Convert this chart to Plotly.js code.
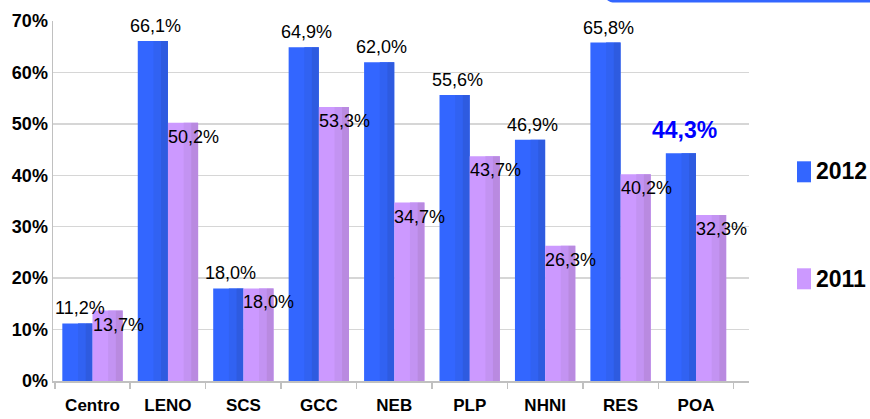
<!DOCTYPE html>
<html>
<head>
<meta charset="utf-8">
<script src="https://cdn.plot.ly/plotly-3.0.1.min.js"></script>
<style>html,body{margin:0;padding:0;background:#fff;}#chart{width:870px;height:419px;}</style>
</head>
<body>
<div id="chart"></div>
<script>
const categories = ["Centro", "LENO", "SCS", "GCC", "NEB", "PLP", "NHNI", "RES", "POA"];
const values2012 = [11.2, 66.1, 18.0, 64.9, 62.0, 55.6, 46.9, 65.8, 44.3];
const values2011 = [13.7, 50.2, 18.0, 53.3, 34.7, 43.7, 26.3, 40.2, 32.3];
const seriesNames = ["2012", "2011"];
const highlightCategory = "POA";

const FONT = "'Liberation Sans', Arial, sans-serif";
const BLUE = ["#3366ff", "#3162f2", "#2e5be0"];
const PURPLE = ["#cc99ff", "#c393f2", "#b98ae0"];

const fmt = v => v.toFixed(1).replace('.', ',') + '%';

const L = 53, R = 749, T = 20.7, B = 380.7, W = 870, H = 419;
const px = x => (x - L) / (R - L);
const py = y => (B - y) / (B - T);

const BW = 0.4;
function seriesTraces(name, values, colors, start) {
  // full bar plus two darker bands on the right (3D-like shading)
  const bands = [[0, 1], [0.52, 0.25], [0.77, 0.23]];
  return bands.map((b, k) => ({
    type: 'bar', name: name, x: categories, y: values,
    offset: start + BW * b[0], width: BW * b[1],
    marker: {color: colors[k], line: {width: 0}}, hoverinfo: 'skip', showlegend: false
  }));
}

const traces = [].concat(
  seriesTraces(seriesNames[0], values2012, BLUE, -BW),
  seriesTraces(seriesNames[1], values2011, PURPLE, 0)
);

const annotations = [];
categories.forEach((c, i) => {
  const hl = c === highlightCategory;
  annotations.push({
    x: c, y: values2012[i], xref: 'x', yref: 'y', text: hl ? '<b>' + fmt(values2012[i]) + '</b>' : fmt(values2012[i]),
    showarrow: false, xanchor: 'center', yanchor: 'bottom', xshift: hl ? -12 : -12.5, yshift: hl ? 8 : 3,
    font: hl ? {family: FONT, size: 23, color: '#0000ff'} : {family: FONT, size: 18, color: '#000'}
  });
  annotations.push({
    x: c, y: values2011[i], xref: 'x', yref: 'y', text: fmt(values2011[i]),
    showarrow: false, xanchor: 'left', yanchor: 'top', xshift: -2, yshift: -2,
    font: {family: FONT, size: 18, color: '#000'}
  });
});
// legend texts
annotations.push({xref: 'paper', yref: 'paper', x: px(814), y: py(171), text: '<b>' + seriesNames[0] + '</b>', showarrow: false, xanchor: 'left', yanchor: 'middle', font: {family: FONT, size: 23, color: '#000'}});
annotations.push({xref: 'paper', yref: 'paper', x: px(814), y: py(279), text: '<b>' + seriesNames[1] + '</b>', showarrow: false, xanchor: 'left', yanchor: 'middle', font: {family: FONT, size: 23, color: '#000'}});

const shapes = [
  {type: 'rect', xref: 'paper', yref: 'paper', x0: px(797), x1: px(811), y0: py(182), y1: py(161), fillcolor: BLUE[0], line: {width: 0}},
  {type: 'rect', xref: 'paper', yref: 'paper', x0: px(797), x1: px(811), y0: py(289), y1: py(268), fillcolor: PURPLE[0], line: {width: 0}},
  {type: 'path', xref: 'paper', yref: 'paper', path: 'M ' + px(606) + ' ' + py(-4) + ' Q ' + px(608) + ' ' + py(1) + ' ' + px(615) + ' ' + py(1) + ' L ' + px(872) + ' ' + py(1), line: {color: BLUE[0], width: 2.5}}
];

const layout = {
  width: W, height: H,
  margin: {l: L, r: W - R, t: T, b: H - B, pad: 0},
  paper_bgcolor: '#fff', plot_bgcolor: '#fff',
  barmode: 'overlay',
  showlegend: false,
  font: {family: FONT, color: '#000'},
  xaxis: {
    type: 'category', showline: true, linecolor: '#c0c0c0', linewidth: 1.5, tickangle: 0, automargin: false,
    ticks: 'outside', tickson: 'boundaries', ticklen: 6, tickcolor: '#c0c0c0', tickwidth: 1.5, ticklabelstandoff: 8,
    tickfont: {family: FONT, size: 17, color: '#000', weight: 'bold'}, fixedrange: true
  },
  yaxis: {
    range: [0, 70], dtick: 10, ticksuffix: '%', showline: true, linecolor: '#c0c0c0', linewidth: 1.5, automargin: false,
    showgrid: true, gridcolor: '#d6d6d6', gridwidth: 1.5, zeroline: false,
    ticks: '', tickfont: {family: FONT, size: 18, color: '#000', weight: 'bold'}, fixedrange: true
  },
  annotations: annotations,
  shapes: shapes
};

Plotly.newPlot('chart', traces, layout, {staticPlot: true, displayModeBar: false});
</script>
</body>
</html>
